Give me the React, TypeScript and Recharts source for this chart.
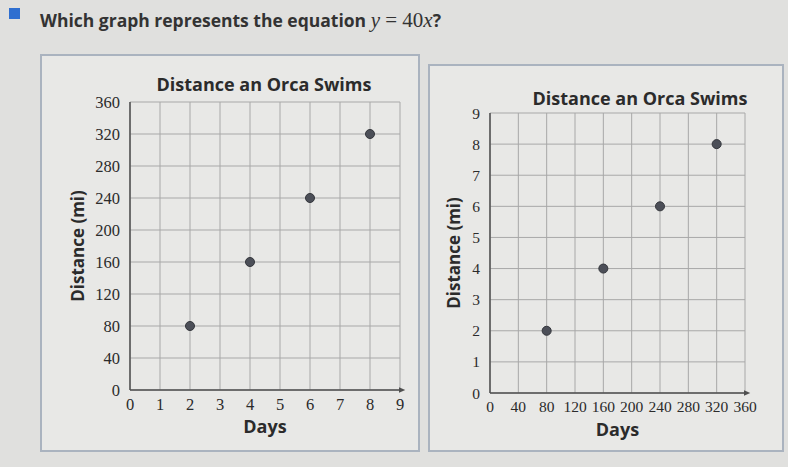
import React from 'react'
import {
  ScatterChart,
  Scatter,
  XAxis,
  YAxis,
  ZAxis,
  CartesianGrid,
  Label,
} from 'recharts'

// left graph: days on x, distance on y
const leftDays = [2, 4, 6, 8]
const leftDistance = [80, 160, 240, 320]
const leftXTicks = [0, 1, 2, 3, 4, 5, 6, 7, 8, 9]
const leftYTicks = [0, 40, 80, 120, 160, 200, 240, 280, 320, 360]

// right graph: the axes swapped
const rightDays = [80, 160, 240, 320]
const rightDistance = [2, 4, 6, 8]
const rightXTicks = [0, 40, 80, 120, 160, 200, 240, 280, 320, 360]
const rightYTicks = [0, 1, 2, 3, 4, 5, 6, 7, 8, 9]

const TITLE = 'Distance an Orca Swims'
const X_LABEL = 'Days'
const Y_LABEL = 'Distance (mi)'

const BG = '#e0e0de'
const PANEL = '#e8e8e6'
const TEXT = '#2b2b2b'
const GRID = '#a8a8a8'
const AXIS = '#4f4f4f'
const DOT = '#4c4f58'

const serif = '"Liberation Serif", serif'
const labelFont = '"Open Sans", sans-serif'

function YLabel({ viewBox, dx }: any) {
  if (!viewBox) return null
  const x = viewBox.x + dx
  const y = viewBox.y + viewBox.height / 2
  return (
    <text
      x={x}
      y={y}
      transform={`rotate(-90 ${x} ${y})`}
      textAnchor="middle"
      fill={TEXT}
      fontSize={17}
      fontWeight={700}
      fontFamily={labelFont}
    >
      {Y_LABEL}
    </text>
  )
}

function ArrowDefs({ id }: { id: string }) {
  return (
    <defs>
      <marker id={id} viewBox="0 0 10 10" refX="2" refY="5" markerWidth="5" markerHeight="5" orient="auto">
        <path d="M0,1 L9,5 L0,9 z" fill={AXIS} />
      </marker>
    </defs>
  )
}

interface OrcaChartProps {
  xs: number[]
  ys: number[]
  xTicks: number[]
  yTicks: number[]
  width: number
  height: number
  margin: { top: number; right: number; bottom: number; left: number }
  yAxisWidth: number
  yLabelDx: number
  tickSize: number
  arrowId: string
}

function OrcaChart(p: OrcaChartProps) {
  const data = p.xs.map((x, i) => ({ x, y: p.ys[i] }))
  const xMax = p.xTicks[p.xTicks.length - 1]
  const yMax = p.yTicks[p.yTicks.length - 1]
  const tickStyle = { fontSize: p.tickSize, fill: TEXT, fontFamily: serif }
  return (
    <ScatterChart width={p.width} height={p.height} margin={p.margin}>
      <ArrowDefs id={p.arrowId} />
      <CartesianGrid stroke={GRID} strokeWidth={1} />
      <XAxis
        type="number"
        dataKey="x"
        domain={[0, xMax]}
        ticks={p.xTicks}
        interval={0}
        tick={tickStyle}
        tickLine={false}
        axisLine={{ stroke: AXIS, strokeWidth: 1.5, markerEnd: `url(#${p.arrowId})` }}
        height={30}
        tickMargin={2}
      >
        <Label
          value={X_LABEL}
          position="bottom"
          offset={0}
          fill={TEXT}
          fontSize={18}
          fontWeight={700}
          fontFamily={labelFont}
        />
      </XAxis>
      <YAxis
        type="number"
        dataKey="y"
        domain={[0, yMax]}
        ticks={p.yTicks}
        interval={0}
        tick={tickStyle}
        tickLine={false}
        axisLine={{ stroke: AXIS, strokeWidth: 1.5 }}
        width={p.yAxisWidth}
        tickMargin={4}
      >
        <Label content={<YLabel dx={p.yLabelDx} />} />
      </YAxis>
      <ZAxis range={[85, 85]} />
      <Scatter data={data} fill={DOT} stroke="#34363c" strokeWidth={1} isAnimationActive={false} />
    </ScatterChart>
  )
}

function Panel({ left, top, width, height, titleTop, titleCenter, children }: any) {
  return (
    <div
      style={{
        position: 'absolute',
        left,
        top,
        width,
        height,
        background: PANEL,
        border: '2px solid #aab3bf',
        boxSizing: 'border-box',
      }}
    >
      <div
        style={{
          position: 'absolute',
          left: titleCenter - 150,
          width: 300,
          top: titleTop,
          textAlign: 'center',
          fontFamily: labelFont,
          fontWeight: 700,
          fontSize: 18,
          color: TEXT,
          whiteSpace: 'nowrap',
        }}
      >
        {TITLE}
      </div>
      <div style={{ position: 'absolute', left: 0, top: 0 }}>{children}</div>
    </div>
  )
}

export default function App() {
  return (
    <div
      style={{
        position: 'absolute',
        left: 0,
        top: 0,
        width: 788,
        height: 467,
        background: BG,
        overflow: 'hidden',
      }}
    >
      <div style={{ position: 'absolute', left: 9, top: 8, width: 11, height: 11, background: '#2f6fd0' }} />
      <div
        style={{
          position: 'absolute',
          left: 40,
          top: 8,
          fontFamily: labelFont,
          fontWeight: 700,
          fontSize: 17.5,
          color: '#333',
          whiteSpace: 'nowrap',
        }}
      >
        Which graph represents the equation{' '}
        <span style={{ fontFamily: serif, fontWeight: 400, fontSize: 21 }}>
          <i>y</i> = 40<i>x</i>
        </span>
        ?
      </div>

      <Panel left={40} top={54} width={380} height={398} titleTop={16} titleCenter={222}>
        <OrcaChart
          xs={leftDays}
          ys={leftDistance}
          xTicks={leftXTicks}
          yTicks={leftYTicks}
          width={376}
          height={394}
          margin={{ top: 46, right: 18, bottom: 30, left: 28 }}
          yAxisWidth={60}
          yLabelDx={14}
          tickSize={16.5}
          arrowId="arrowLeft"
        />
      </Panel>

      <Panel left={428} top={64} width={356} height={388} titleTop={20} titleCenter={210}>
        <OrcaChart
          xs={rightDays}
          ys={rightDistance}
          xTicks={rightXTicks}
          yTicks={rightYTicks}
          width={352}
          height={384}
          margin={{ top: 47, right: 37, bottom: 27, left: 30 }}
          yAxisWidth={30}
          yLabelDx={0}
          tickSize={15.5}
          arrowId="arrowRight"
        />
      </Panel>
    </div>
  )
}
